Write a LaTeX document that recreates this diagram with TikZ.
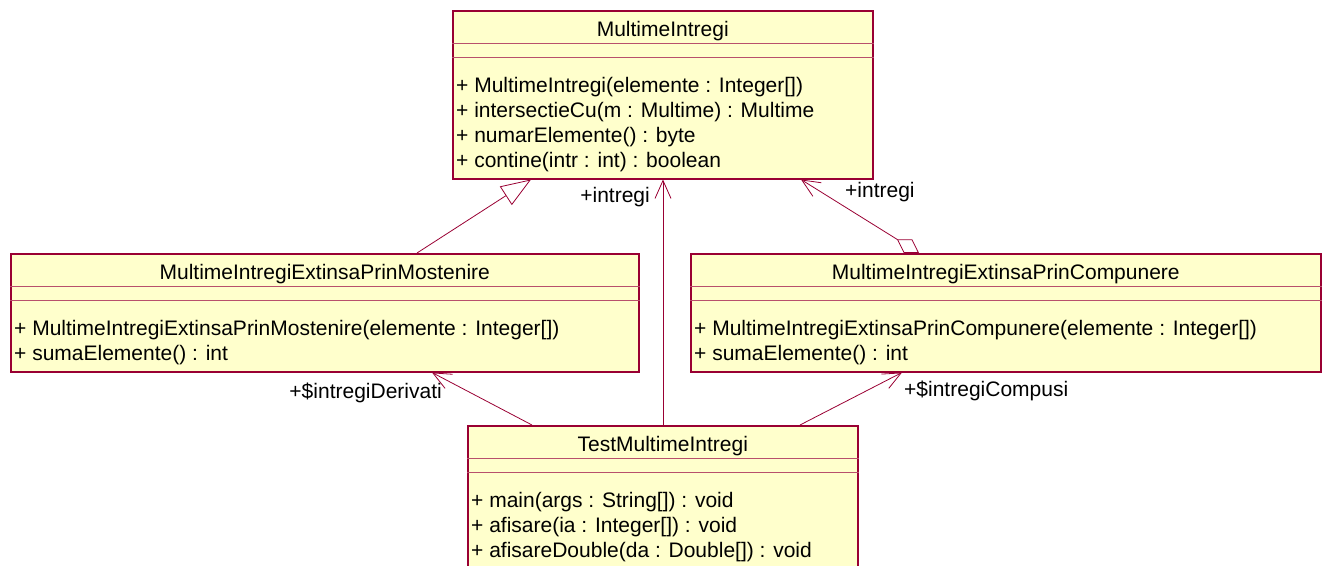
\documentclass[tikz,border=0pt]{standalone}
\usepackage{fontspec}
\setmainfont{Liberation Sans}
\usetikzlibrary{arrows.meta,calc}
\definecolor{umlborder}{HTML}{990033}
\definecolor{umldivider}{HTML}{B8506C}
\definecolor{umlfill}{HTML}{FFFFCC}
\tikzset{
  classbox/.style={draw=umlborder, line width=1.5pt, fill=umlfill, inner sep=0pt, anchor=north west},
  divider/.style={draw=umldivider, line width=1pt},
  cname/.style={inner sep=0pt, anchor=base, font=\fontsize{21}{25}\selectfont},
  member/.style={inner sep=0pt, anchor=base west, font=\fontsize{21}{25}\selectfont},
  role/.style={inner sep=0pt, font=\fontsize{21}{25}\selectfont},
  link/.style={draw=umlborder, line width=0.8pt},
  nav/.style={link, -{Straight Barb[length=18pt,width=16pt]}},
  inherit/.style={link, -{Triangle[open,length=30pt,width=22pt]}},
  aggr/.style={link, {Diamond[open,length=26pt,width=16pt]}-{Straight Barb[length=18pt,width=16pt]}},
}
\begin{document}
\begin{tikzpicture}[x=1pt, y=-1pt]
\useasboundingbox (0,0) rectangle (1329,565);

% ---- class MultimeIntregi ----
\node[classbox, minimum width=420pt, minimum height=168pt] (mi) at (452,10) {};
\draw[divider] ($(mi.north west)+(0,33)$) -- ($(mi.north east)+(0,33)$);
\draw[divider] ($(mi.north west)+(0,47)$) -- ($(mi.north east)+(0,47)$);
\node[cname] (miname) at ($(mi.north)+(0,26)$) {MultimeIntregi};
\node[member] (mio1) at ($(mi.north west)+(4,82)$) {+ MultimeIntregi(elemente : Integer[])};
\node[member] (mio2) at ($(mi.north west)+(4,107)$) {+ intersectieCu(m : Multime) : Multime};
\node[member] (mio3) at ($(mi.north west)+(4,132)$) {+ numarElemente() : byte};
\node[member] (mio4) at ($(mi.north west)+(4,157)$) {+ contine(intr : int) : boolean};

% ---- class MultimeIntregiExtinsaPrinMostenire ----
\node[classbox, minimum width=628pt, minimum height=118pt] (most) at (10,253) {};
\draw[divider] ($(most.north west)+(0,33)$) -- ($(most.north east)+(0,33)$);
\draw[divider] ($(most.north west)+(0,47)$) -- ($(most.north east)+(0,47)$);
\node[cname] (mostname) at ($(most.north)+(0,26)$) {MultimeIntregiExtinsaPrinMostenire};
\node[member] (mosto1) at ($(most.north west)+(4,82)$) {+ MultimeIntregiExtinsaPrinMostenire(elemente : Integer[])};
\node[member] (mosto2) at ($(most.north west)+(4,107)$) {+ sumaElemente() : int};

% ---- class MultimeIntregiExtinsaPrinCompunere ----
\node[classbox, minimum width=630pt, minimum height=118pt] (comp) at (690,253) {};
\draw[divider] ($(comp.north west)+(0,33)$) -- ($(comp.north east)+(0,33)$);
\draw[divider] ($(comp.north west)+(0,47)$) -- ($(comp.north east)+(0,47)$);
\node[cname] (compname) at ($(comp.north)+(0,26)$) {MultimeIntregiExtinsaPrinCompunere};
\node[member] (compo1) at ($(comp.north west)+(4,82)$) {+ MultimeIntregiExtinsaPrinCompunere(elemente : Integer[])};
\node[member] (compo2) at ($(comp.north west)+(4,107)$) {+ sumaElemente() : int};

% ---- class TestMultimeIntregi ----
\node[classbox, minimum width=390pt, minimum height=143pt] (test) at (467,425) {};
\draw[divider] ($(test.north west)+(0,33)$) -- ($(test.north east)+(0,33)$);
\draw[divider] ($(test.north west)+(0,47)$) -- ($(test.north east)+(0,47)$);
\node[cname] (testname) at ($(test.north)+(0,26)$) {TestMultimeIntregi};
\node[member] (testo1) at ($(test.north west)+(4,82)$) {+ main(args : String[]) : void};
\node[member] (testo2) at ($(test.north west)+(4,107)$) {+ afisare(ia : Integer[]) : void};
\node[member] (testo3) at ($(test.north west)+(4,132)$) {+ afisareDouble(da : Double[]) : void};

% ---- connector end points on the class borders ----
\coordinate (genS) at ($(most.north west)+(407,0)$);
\coordinate (genT) at ($(mi.south west)+(79,0)$);
\coordinate (vS) at ($(test.north west)+(196,0)$);
\coordinate (vT) at ($(mi.south west)+(211,0)$);
\coordinate (agS) at ($(comp.north west)+(229,0)$);
\coordinate (agT) at ($(mi.south west)+(349,0)$);
\coordinate (dS) at ($(test.north west)+(65,0)$);
\coordinate (dT) at ($(most.south west)+(422,0)$);
\coordinate (cS) at ($(test.north west)+(333,0)$);
\coordinate (cT) at ($(comp.south west)+(212,0)$);

% ---- relations ----
\draw[inherit] (genS) -- (genT);
\draw[nav] (vS) -- (vT);
\draw[aggr] (agS) -- (agT);
\draw[nav] (dS) -- (dT);
\draw[nav] (cS) -- (cT);

% ---- role names ----
\node[role, anchor=base east] (rolev) at (650,202) {+intregi};
\node[role, anchor=base west] (rolea) at (845,197) {+intregi};
\node[role, anchor=base east] (roled) at (442,398) {+\$intregiDerivati};
\node[role, anchor=base west] (rolec) at (904,396) {+\$intregiCompusi};
\end{tikzpicture}
\end{document}
